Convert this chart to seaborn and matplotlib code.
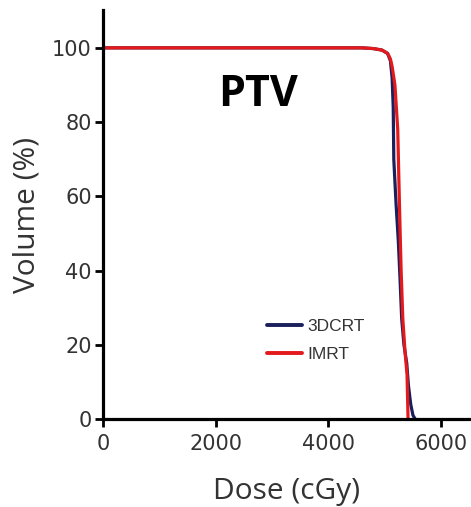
import matplotlib
matplotlib.use("Agg")
import matplotlib.pyplot as plt
import seaborn as sns
import pandas as pd

# ---- data ----
dose_3dcrt = [0, 4600, 4800, 4950, 5050, 5100, 5130, 5150, 5160, 5200, 5240, 5270, 5300, 5340, 5390, 5420, 5460, 5500, 5540]
vol_3dcrt = [100, 100, 99.8, 99.4, 98.5, 96.5, 92, 84, 70, 58, 48, 38, 27, 20, 15, 9, 4, 1, 0]
dose_imrt = [0, 4600, 4800, 4950, 5050, 5100, 5130, 5180, 5230, 5260, 5290, 5320, 5360, 5395, 5413]
vol_imrt = [100, 100, 99.8, 99.4, 98.5, 97, 95, 90, 78, 58, 40, 27, 18, 12, 0]
series_names = ["3DCRT", "IMRT"]
x_ticks = [0, 2000, 4000, 6000]
y_ticks = [0, 20, 40, 60, 80, 100]

df = pd.concat([
    pd.DataFrame({"Dose": dose_3dcrt, "Volume": vol_3dcrt, "Plan": series_names[0]}),
    pd.DataFrame({"Dose": dose_imrt, "Volume": vol_imrt, "Plan": series_names[1]}),
], ignore_index=True)

sns.set_style("ticks")
plt.rcParams["font.family"] = ["DejaVu Sans"]

fig = plt.figure(figsize=(4.71, 5.07), dpi=100)
ax = fig.add_axes([103 / 471, 1 - 419 / 507, 1 - 103 / 471, (419 - 10) / 507])

palette = {"3DCRT": "#1b1f5c", "IMRT": "#e3191c"}
sns.lineplot(data=df, x="Dose", y="Volume", hue="Plan", palette=palette,
             estimator=None, sort=False, linewidth=2.3, ax=ax, legend=True)

ax.set_xlim(0, 6530)
ax.set_ylim(0, 110.2)
ax.set_xticks(x_ticks)
ax.set_yticks(y_ticks)
ax.tick_params(axis="both", direction="out", length=6, width=2.0, color="black",
               labelsize=15, labelcolor="#333333", pad=2)
ax.tick_params(axis="x", pad=5)
for s in ["left", "bottom"]:
    ax.spines[s].set_linewidth(2.3)
    ax.spines[s].set_color("black")
sns.despine(ax=ax)

ax.set_xlabel("Dose (cGy)", fontsize=21.5, family="Open Sans", color="#333333", labelpad=16)
ax.set_ylabel("Volume (%)", fontsize=21.5, family="Open Sans", color="#333333", labelpad=8)

ax.text(2750, 87.5, "PTV", fontsize=31, fontweight="bold", family="Open Sans",
        ha="center", va="center", color="black")

leg = ax.legend(loc="upper left", bbox_to_anchor=(0.4457, 0.245), frameon=False,
                handlelength=2.0, handletextpad=0.3, labelspacing=0.75,
                borderpad=0, borderaxespad=0,
                prop={"family": "Liberation Sans", "size": 12.5})
for t in leg.get_texts():
    t.set_color("#333333")
for l in leg.get_lines():
    l.set_linewidth(2.8)

fig.savefig("out.png", dpi=100)
